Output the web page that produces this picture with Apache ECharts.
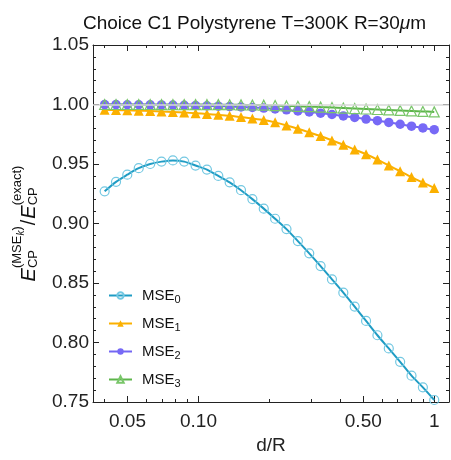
<!DOCTYPE html>
<html><head><meta charset="utf-8">
<script src="https://cdn.jsdelivr.net/npm/echarts@6/dist/echarts.min.js"></script>
<style>html,body{margin:0;padding:0;background:#fff}#c{width:451px;height:460px}</style>
</head><body><div id="c"></div>
<script>
const xValues = [0.04, 0.0447, 0.0499, 0.0558, 0.0624, 0.0697, 0.0779, 0.0870, 0.0972, 0.1086,
  0.1214, 0.1356, 0.1515, 0.1693, 0.1892, 0.2114, 0.2362, 0.2640, 0.2950, 0.3296,
  0.3683, 0.4115, 0.4598, 0.5138, 0.5741, 0.6415, 0.7168, 0.8009, 0.8950, 1.0];
const mse0 = [0.927, 0.935, 0.941, 0.9465, 0.950, 0.952, 0.953, 0.952, 0.9487, 0.9453,
  0.940, 0.9346, 0.928, 0.9205, 0.9125, 0.904, 0.8953, 0.8852, 0.8749, 0.8642,
  0.8531, 0.8419, 0.8302, 0.8181, 0.8061, 0.795, 0.7838, 0.7721, 0.7623, 0.7517];
const mse1 = [0.9955, 0.9953, 0.9951, 0.9948, 0.9945, 0.9941, 0.9937, 0.9932, 0.9927, 0.9920,
  0.9913, 0.9905, 0.9894, 0.9883, 0.9870, 0.9850, 0.9824, 0.9796, 0.9766, 0.9735,
  0.9698, 0.9661, 0.9621, 0.9582, 0.9537, 0.9488, 0.9439, 0.9390, 0.9344, 0.9299];
const mse2 = [0.9999, 0.9999, 0.9998, 0.9998, 0.9997, 0.9996, 0.9995, 0.9993, 0.9991, 0.9989,
  0.9986, 0.9983, 0.9979, 0.9975, 0.9970, 0.9963, 0.9955, 0.9946, 0.9937, 0.9927,
  0.9916, 0.9904, 0.9891, 0.9878, 0.9864, 0.9849, 0.9834, 0.9818, 0.9803, 0.9788];
const mse3 = [1.0000, 1.0000, 1.0000, 1.0000, 1.0000, 0.9999, 0.9999, 0.9999, 0.9999, 0.9999,
  0.9999, 0.9998, 0.9997, 0.9996, 0.9994, 0.9991, 0.9988, 0.9985, 0.9982, 0.9978,
  0.9974, 0.9970, 0.9966, 0.9962, 0.9958, 0.9954, 0.9950, 0.9946, 0.9942, 0.9938];
const seriesNames = ['MSE0', 'MSE1', 'MSE2', 'MSE3'];
const xMajorTicks = [0.05, 0.1, 0.5, 1];
const xTickLabels = ['0.05', '0.10', '0.50', '1'];
const xMinorTicks = [0.04, 0.06, 0.07, 0.08, 0.09, 0.2, 0.3, 0.4, 0.6, 0.7, 0.8, 0.9];
const yMin = 0.75, yMax = 1.05, yStep = 0.05;
const referenceLevel = 1.0;

const FONT = '"Liberation Sans", Arial, sans-serif';
const AX = '#222';
const X_MIN = 0.0357, X_MAX = 1.155;
const LMIN = Math.log10(X_MIN), LMAX = Math.log10(X_MAX);

function pairs(ys) { return xValues.map((x, i) => [x, ys[i]]); }

// Tick-only axes: a linear axis spanning the same decades as the log data axis.
function tickAxis(pos, ticks, len, showLabel) {
  const lv = ticks.map(t => Math.log10(t));
  return {
    type: 'value', position: pos, min: LMIN, max: LMAX,
    axisLine: { show: false, onZero: false },
    axisTick: { show: true, inside: true, length: len, customValues: lv, lineStyle: { color: AX, width: 1 } },
    axisLabel: showLabel ? {
      show: true, customValues: lv, margin: 10, fontSize: 19, color: '#222', fontFamily: FONT,
      formatter: v => { const i = lv.findIndex(t => Math.abs(t - v) < 1e-6); return i >= 0 ? xTickLabels[i] : ''; }
    } : { show: false },
    splitLine: { show: false }, minorTick: { show: false }
  };
}
function yAxisDef(pos, showLabel) {
  return {
    type: 'value', position: pos, min: yMin, max: yMax, interval: yStep,
    axisLine: { show: true, onZero: false, lineStyle: { color: AX, width: 1 } },
    axisTick: { show: true, inside: true, length: 6, lineStyle: { color: AX } },
    minorTick: { show: true, splitNumber: 5, length: 3, lineStyle: { color: AX } },
    axisLabel: showLabel ? { show: true, fontSize: 19, color: '#222', fontFamily: FONT, margin: 4, formatter: v => v.toFixed(2) } : { show: false },
    splitLine: { show: false }, minorSplitLine: { show: false }
  };
}

const styles = [
  { line: '#1f9cc4', symbol: 'circle', size: 9, fill: 'rgba(0,0,0,0)', border: '#73c8e2', bw: 1.2 },
  { line: '#fbb000', symbol: 'triangle', size: 10, fill: '#fbb000', border: '#fbb000', bw: 0 },
  { line: '#7366f3', symbol: 'circle', size: 9.5, fill: '#7769f6', border: '#7769f6', bw: 0 },
  { line: '#5db54a', symbol: 'triangle', size: 10, fill: 'rgba(0,0,0,0)', border: '#79c66a', bw: 1.2 }
];
const dataSets = [mse0, mse1, mse2, mse3];

const series = dataSets.map((ys, k) => ({
  name: seriesNames[k], type: 'line', xAxisIndex: 0, yAxisIndex: 0,
  data: pairs(ys), smooth: 0.3, symbol: styles[k].symbol, symbolSize: styles[k].size,
  showAllSymbol: true,
  lineStyle: { color: styles[k].line, width: 2 },
  itemStyle: { color: styles[k].fill, borderColor: styles[k].border, borderWidth: styles[k].bw },
  emphasis: { disabled: true }, animation: false,
  markLine: k === 0 ? {
    silent: true, symbol: 'none', label: { show: false },
    lineStyle: { color: '#d9d9d9', width: 1.5, type: 'solid' },
    data: [{ yAxis: referenceLevel }]
  } : undefined
}));

const R = (o) => Object.assign({ color: '#111', fontFamily: FONT, align: 'left' }, o);

const chart = echarts.init(document.getElementById('c'), null, { renderer: 'canvas' });
chart.setOption({
  animation: false,
  backgroundColor: '#fff',
  textStyle: { fontFamily: FONT },
  title: {
    text: 'Choice C1 Polystyrene T=300K R=30{i|μ}m',
    left: 78, top: 9,
    textStyle: { fontSize: 19, fontWeight: 'normal', color: '#111', fontFamily: FONT,
      rich: { i: { fontSize: 19, fontStyle: 'italic', color: '#111', fontFamily: FONT } } }
  },
  grid: { left: 93, right: 2, top: 45, bottom: 57, containLabel: false },
  xAxis: [
    {
      type: 'log', logBase: 10, position: 'bottom', min: X_MIN, max: X_MAX,
      axisLine: { show: true, onZero: false, lineStyle: { color: AX, width: 1 } },
      axisTick: { show: false }, axisLabel: { show: false }, splitLine: { show: false },
      name: 'd/R', nameLocation: 'middle', nameGap: 34,
      nameTextStyle: { fontSize: 19, color: '#222', fontFamily: FONT }
    },
    {
      type: 'log', logBase: 10, position: 'top', min: X_MIN, max: X_MAX,
      axisLine: { show: true, onZero: false, lineStyle: { color: AX, width: 1 } },
      axisTick: { show: false }, axisLabel: { show: false }, splitLine: { show: false }
    },
    tickAxis('bottom', xMajorTicks, 6, true),
    tickAxis('bottom', xMinorTicks, 3, false),
    tickAxis('top', xMajorTicks, 6, false),
    tickAxis('top', xMinorTicks, 3, false)
  ],
  yAxis: [
    Object.assign(yAxisDef('left', true), {
      name: '{E|E}{sub|CP}{sup|(MSE}{ss|k}{sup|)}{sl|/}{E|E}{sub|CP}{sup|(exact)}',
      nameLocation: 'middle', nameRotate: 90, nameGap: 45,
      nameTextStyle: {
        color: '#111', fontFamily: FONT,
        rich: {
          E: R({ fontSize: 20, fontStyle: 'italic' }),
          sl: R({ fontSize: 20, padding: [0, 1, 0, 1] }),
          sub: R({ fontSize: 13, width: 0, padding: [7, 0, 0, 0] }),
          sup: R({ fontSize: 13, padding: [0, 0, 24, 0] }),
          ss: R({ fontSize: 10, fontStyle: 'italic', padding: [0, 0, 16, 0] })
        }
      }
    }),
    yAxisDef('right', false)
  ],
  legend: {
    show: true, orient: 'vertical', left: 103, top: 283,
    itemWidth: 23, itemHeight: 8, itemGap: 11,
    data: seriesNames,
    formatter: n => '{m|MSE}{s|' + n.slice(3) + '}',
    textStyle: {
      color: '#111', fontFamily: FONT, padding: [0, 0, 0, 5],
      rich: {
        m: { fontSize: 15, color: '#111', fontFamily: FONT },
        s: { fontSize: 11, color: '#111', fontFamily: FONT, padding: [8, 0, 0, 0] }
      }
    },
    selectedMode: false
  },
  series: series
});
</script>
</body></html>
